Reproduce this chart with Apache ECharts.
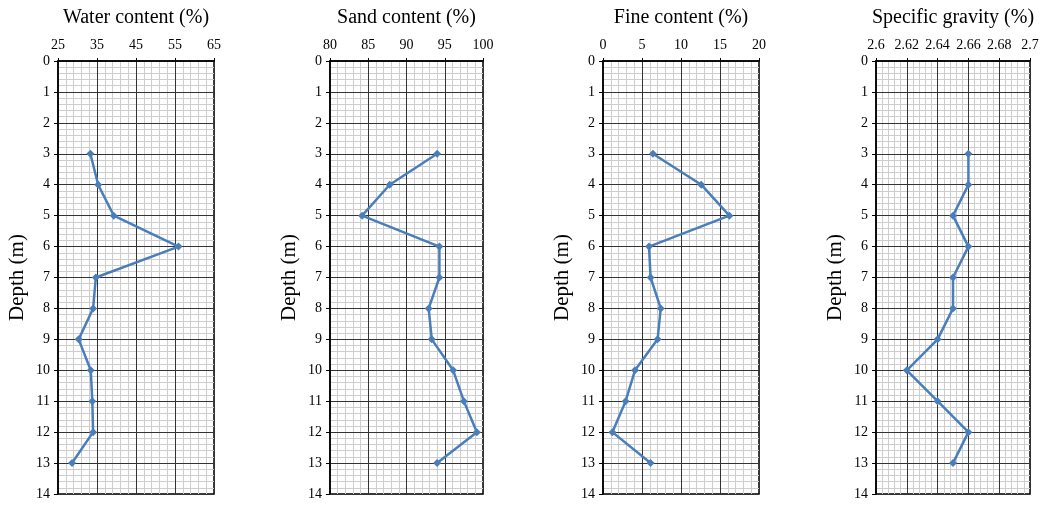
<!DOCTYPE html>
<html>
<head>
<meta charset="utf-8">
<script src="https://cdn.jsdelivr.net/npm/echarts@6/dist/echarts.min.js"></script>
<style>
html,body{margin:0;padding:0;background:#fff;}
#chart{width:1049px;height:505px;}
</style>
</head>
<body>
<div id="chart"></div>
<script>
// Data (depth in m)
const depths = [3, 4, 5, 6, 7, 8, 9, 10, 11, 12, 13];
const waterContent = [33.3, 35.3, 39.3, 55.9, 34.7, 34.0, 30.3, 33.4, 33.8, 34.0, 28.6];
const sandContent = [94.0, 87.8, 84.2, 94.3, 94.3, 92.9, 93.3, 96.1, 97.5, 99.2, 94.0];
const fineContent = [6.4, 12.6, 16.2, 5.9, 6.1, 7.4, 7.0, 4.1, 2.9, 1.2, 6.1];
const specificGravity = [2.66, 2.66, 2.65, 2.66, 2.65, 2.65, 2.64, 2.62, 2.64, 2.66, 2.65];

const panelTitles = ['Water content (%)', 'Sand content (%)', 'Fine content (%)', 'Specific gravity (%)'];
const panelValues = [waterContent, sandContent, fineContent, specificGravity];
const axisMin = [25, 80, 0, 2.6];
const axisMax = [65, 100, 20, 2.7];
const axisStep = [10, 5, 5, 0.02];
const depthMin = 0, depthMax = 14, depthStep = 1;
const yAxisName = 'Depth (m)';

const gridPos = [
  {left: 58, width: 156},
  {left: 330, width: 153},
  {left: 603, width: 156},
  {left: 876, width: 154}
];
const FONT = '"Liberation Serif", "Times New Roman", serif';
const LINE_COLOR = '#4A7EBB';

const grids = [], xAxes = [], yAxes = [], series = [];
const hidden = {show: false};
panelValues.forEach((vals, i) => {
  grids.push({
    left: gridPos[i].left, width: gridPos[i].width, top: 61, height: 433,
    show: true, borderColor: '#000', borderWidth: 1.5, backgroundColor: 'transparent'
  });
  // minor grid layer (drawn below)
  xAxes.push({
    type: 'value', gridIndex: i, position: 'bottom', z: 0,
    min: axisMin[i], max: axisMax[i], interval: axisStep[i],
    axisLine: hidden, axisTick: hidden, axisLabel: hidden, splitLine: hidden,
    minorTick: {show: false, splitNumber: 5},
    minorSplitLine: {show: true, lineStyle: {color: '#cdcdcd', width: 1}}
  });
  yAxes.push({
    type: 'value', gridIndex: i, position: 'right', inverse: true, z: 0,
    min: depthMin, max: depthMax, interval: depthStep,
    axisLine: hidden, axisTick: hidden, axisLabel: hidden, splitLine: hidden,
    minorTick: {show: false, splitNumber: 5},
    minorSplitLine: {show: true, lineStyle: {color: '#cdcdcd', width: 1}}
  });
  // main axes (drawn above)
  xAxes.push({
    type: 'value', gridIndex: i, position: 'top', z: 2,
    min: axisMin[i], max: axisMax[i], interval: axisStep[i],
    name: panelTitles[i], nameLocation: 'middle', nameGap: 33,
    nameTextStyle: {fontFamily: FONT, fontSize: 20, color: '#000'},
    axisLine: {show: true, lineStyle: {color: '#000', width: 1.5}},
    axisTick: {show: true, length: 3, lineStyle: {color: '#000'}},
    axisLabel: {fontFamily: FONT, fontSize: 14, color: '#000', margin: 9},
    splitLine: {show: true, lineStyle: {color: '#333', width: 1}},
    minorSplitLine: hidden
  });
  yAxes.push({
    type: 'value', gridIndex: i, inverse: true, position: 'left', z: 2,
    min: depthMin, max: depthMax, interval: depthStep,
    name: yAxisName, nameLocation: 'middle', nameGap: 30,
    nameTextStyle: {fontFamily: FONT, fontSize: 21, color: '#000'},
    axisLine: {show: true, lineStyle: {color: '#000', width: 1.5}},
    axisTick: {show: true, length: 4, lineStyle: {color: '#000'}},
    axisLabel: {fontFamily: FONT, fontSize: 14, color: '#000', margin: 8},
    splitLine: {show: true, lineStyle: {color: '#333', width: 1}},
    minorSplitLine: hidden
  });
  series.push({
    type: 'line', xAxisIndex: 2 * i + 1, yAxisIndex: 2 * i + 1, z: 5,
    data: vals.map((v, k) => [v, depths[k]]),
    symbol: 'diamond', symbolSize: 8,
    lineStyle: {color: LINE_COLOR, width: 2.5},
    itemStyle: {color: LINE_COLOR},
    animation: false
  });
});

const chart = echarts.init(document.getElementById('chart'));
chart.setOption({
  backgroundColor: '#fff',
  animation: false,
  grid: grids, xAxis: xAxes, yAxis: yAxes, series: series
});
</script>
</body>
</html>
